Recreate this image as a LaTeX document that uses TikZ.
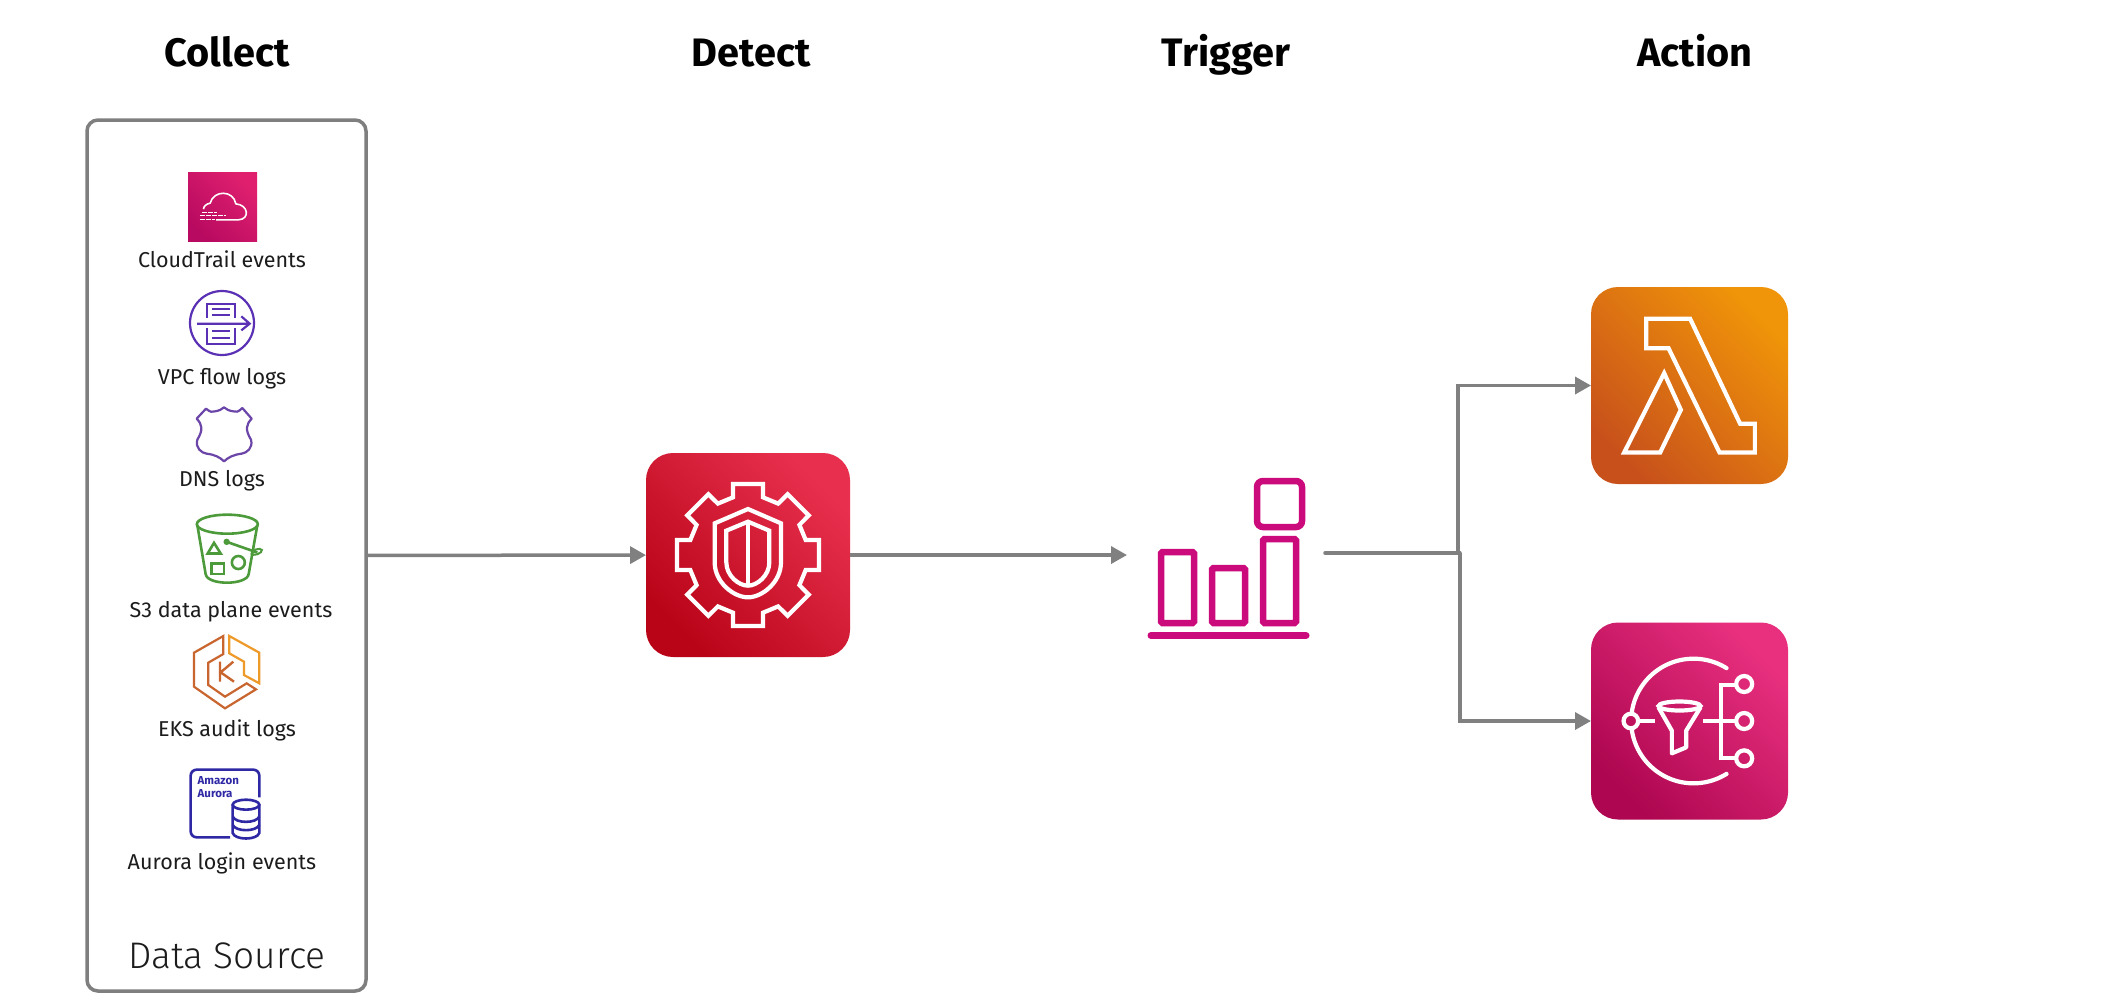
\documentclass[tikz,border=0pt]{standalone}
\usepackage{fontspec}
\setmainfont{Fira Sans}
\newfontfamily\dsfont[UprightFont={* Light}]{Fira Sans}
\usetikzlibrary{arrows.meta,calc}
\definecolor{flowgray}{HTML}{808080}
\definecolor{boxgray}{HTML}{7F7F7F}
\definecolor{trigpink}{HTML}{CB0A7C}
\definecolor{vpcpurple}{HTML}{5A30B5}
\definecolor{dnspurple}{HTML}{6B45A8}
\definecolor{s3green}{HTML}{4C9A3A}
\definecolor{aurorablue}{HTML}{2F28A5}
\definecolor{inktext}{HTML}{1C1C1C}
\definecolor{ekslow}{HTML}{C9652E}
\definecolor{ekshigh}{HTML}{EE9A2A}
\definecolor{guardA}{HTML}{B90418}
\definecolor{guardB}{HTML}{E8304E}
\definecolor{lamA}{HTML}{C8511B}
\definecolor{lamB}{HTML}{F09409}
\definecolor{snsA}{HTML}{AE0650}
\definecolor{snsB}{HTML}{E8307F}
\definecolor{ctA}{HTML}{B80A60}
\definecolor{ctB}{HTML}{E0206F}
\tikzset{
  every node/.style={inner sep=0pt,outer sep=0pt},
  title/.style={anchor=base,font=\fontsize{39.7}{44}\selectfont\bfseries,text=black},
  lab/.style={anchor=base,font=\fontsize{21.5}{25}\selectfont,text=inktext},
  tile/.style 2 args={minimum width=#1,minimum height=#1,rounded corners=#2},
  grad/.style 2 args={bottom color=#1,top color=#2,shading angle=-45},
  flow/.style={draw=flowgray,line width=3.5pt,-{Triangle[length=16pt,width=17pt]}},
  flowline/.style={draw=flowgray,line width=3.5pt},
  wline/.style={draw=white,line width=4.2pt,line join=miter},
  thinw/.style={draw=white,line width=1.6pt},
  trigbar/.style={draw=trigpink,line width=6.5pt,rounded corners=1.5pt},
  vpcline/.style={draw=vpcpurple,line width=2.2pt},
  s3line/.style={draw=s3green,line width=2.6pt},
  aurline/.style={draw=aurorablue,line width=2.6pt},
  iconin/.style n args={3}{shift={(#1)},x=.33333pt,y=-.33333pt,shift={(-#2,-#3)}},
}
\begin{document}
\begin{tikzpicture}[x=1pt,y=-1pt]
\useasboundingbox (0,0) rectangle (2116,997);
\fill[white] (0,0) rectangle (2116,997);

% titles
\node[title] (tCollect) at (227,66) {Collect};
\node[title] (tDetect) at (751,66) {Detect};
\node[title] (tTrigger) at (1226,66) {Trigger};
\node[title] (tAction) at (1695,66) {Action};

% data source frame
\node[draw=boxgray,line width=3.5pt,rounded corners=11pt,minimum width=279pt,minimum height=871pt] (ds) at (226.5,555.5) {};

% main tiles
\node[tile={204pt}{27pt},grad={guardA}{guardB}] (guard) at (748,555) {};
\node[tile={197pt}{27pt},grad={lamA}{lamB}] (lambda) at (1689.5,385.5) {};
\node[tile={197pt}{27pt},grad={snsA}{snsB}] (sns) at (1689.5,721) {};
\node[minimum width=198pt,minimum height=161pt] (trig) at (1226,555) {};
\node[minimum width=69pt,minimum height=69pt,grad={ctA}{ctB}] (ctrail) at (222.5,206.5) {};
\node[minimum width=64pt,minimum height=64pt,circle,draw=vpcpurple,line width=2.2pt] (vpc) at (222,323) {};
\node[minimum width=60pt,minimum height=56pt] (dns) at (224,434) {};
\node[minimum width=66pt,minimum height=69pt] (s3) at (229,548.5) {};
\node[minimum width=66pt,minimum height=74pt] (eks) at (226,672) {};
\node[minimum width=72pt,minimum height=70pt] (aurora) at (225,804) {};

% labels
\node[lab] (lCT) at (222,267) {CloudTrail events};
\node[lab] (lVPC) at (222,384) {VPC flow logs};
\node[lab] (lDNS) at (222,486) {DNS logs};
\node[lab] (lS3) at (231,617) {S3 data plane events};
\node[lab] (lEKS) at (227,736) {EKS audit logs};
\node[lab] (lAur) at (222,869) {Aurora login events};
\node[anchor=base,font=\dsfont\fontsize{37}{42}\selectfont,text=inktext] (lDS) at (227,968) {Data Source};

% guard icon
\begin{scope}[iconin={guard.center}{383}{378}]
\coordinate (gc) at (383,378);
\draw[wline] ($(gc)+(-14.6:178.8)$)
  \foreach \a in {0,45,...,315}{ -- ($(gc)+(\a-14.6:178.8)$) -- ($(gc)+(\a-11.9:217.7)$) -- ($(gc)+(\a+11.9:217.7)$) -- ($(gc)+(\a+14.6:178.8)$)} -- cycle;
\draw[wline] (383,240) -- (283,283) -- (283,400) .. controls (283,460) and (340,505) .. (383,505) .. controls (425,505) and (482,460) .. (482,400) -- (482,283) -- cycle;
\draw[wline] (383,278) -- (318,305) -- (318,400) .. controls (318,440) and (355,470) .. (383,470) .. controls (410,470) and (447,440) .. (447,400) -- (447,305) -- cycle;
\draw[wline] (383,285) -- (383,470);
\end{scope}

% lambda icon
\begin{scope}[iconin={lambda.center}{388}{347}]
\draw[wline] (258,147) -- (390,147) -- (540,462) -- (584,462) -- (584,548) -- (478,548) -- (325,235) -- (258,235) -- cycle;
\draw[wline] (312,310) -- (362,420) -- (300,548) -- (192,548) -- cycle;
\end{scope}

% sns icon
\begin{scope}[iconin={sns.center}{388}{333}]
\draw[wline,line cap=round] plot[domain=58:172,samples=50] ({400+187*cos(\x)},{333+187*sin(\x)});
\draw[wline,line cap=round] plot[domain=188:302,samples=50] ({400+187*cos(\x)},{333+187*sin(\x)});
\draw[wline] (212,333) circle[radius=7.3pt];
\draw[wline] (235,333) -- (285,333);
\draw[wline] (358,288) ellipse[x radius=21pt,y radius=4.5pt];
\draw[wline,line join=round] (295,292) -- (335,362) -- (335,430) -- (378,412) -- (378,362) -- (421,292);
\draw[wline] (428,333) -- (528,333);
\draw[wline] (530,225) -- (482,225) -- (482,445) -- (530,445);
\draw[wline] (552,222) circle[radius=8pt];
\draw[wline] (552,333) circle[radius=8pt];
\draw[wline] (552,445) circle[radius=8pt];
\end{scope}

% trigger icon
\draw[trigbar] (1161,552) rectangle (1194,623);
\draw[trigbar] (1212,568) rectangle (1245,623);
\draw[trigbar] (1263,539) rectangle (1296,623);
\draw[draw=trigpink,line width=6.5pt,rounded corners=6pt] (1257,481) rectangle (1302,527);
\draw[draw=trigpink,line width=7pt,line cap=round] (1151,635.5) -- (1306,635.5);

% cloudtrail icon
\begin{scope}[iconin={ctrail.center}{487}{320}]
\draw[thinw,line join=round] (468,360) -- (535,360) .. controls (570,358) and (565,315) .. (527,312) .. controls (520,270) and (460,270) .. (450,310) .. controls (438,312) and (430,320) .. (430,328);
\draw[draw=white,line width=1.1pt,dash pattern=on 5pt off 1pt] (425,338) -- (470,338);
\draw[draw=white,line width=1.1pt,dash pattern=on 5pt off 1pt] (420,348) -- (497,348);
\draw[draw=white,line width=1.1pt,dash pattern=on 5pt off 1pt] (418,358) -- (465,358);
\end{scope}

% vpc icon
\begin{scope}[iconin={vpc.center}{487}{670}]
\draw[vpcline] (443,655) -- (443,612) -- (527,612) -- (527,655);
\draw[vpcline] (443,685) -- (443,732) -- (527,732) -- (527,685);
\draw[vpcline] (458,628) -- (512,628) (458,645) -- (512,645) (458,695) -- (512,695) (458,715) -- (512,715);
\draw[vpcline] (412,672) -- (570,672) (545,650) -- (570,672) -- (545,692);
\end{scope}

% dns icon
\begin{scope}[iconin={dns.center}{162}{118}]
\draw[draw=dnspurple,line width=2.2pt,line join=round]
 (108,42) .. controls (120,52) and (128,54) .. (135,50) .. controls (148,48) and (155,44) .. (162,38)
 .. controls (169,44) and (176,48) .. (190,50) .. controls (197,54) and (205,52) .. (217,40)
 -- (245,72) .. controls (228,90) and (225,105) .. (243,135) .. controls (250,160) and (230,175) .. (215,177)
 .. controls (190,180) and (175,188) .. (162,200) .. controls (150,188) and (135,180) .. (110,177)
 .. controls (95,175) and (75,160) .. (82,135) .. controls (100,105) and (97,90) .. (80,72) -- cycle;
\end{scope}

% s3 icon
\begin{scope}[iconin={s3.center}{507}{145}]
\draw[s3line] (502,72) ellipse[x radius=30.5pt,y radius=9.5pt];
\draw[s3line,line join=round] (412,75) -- (437,222) .. controls (442,256) and (560,256) .. (566,222) -- (592,75);
\draw[s3line] (500,125) -- (592,157);
\fill[s3green] (500,125) circle[radius=3.2pt];
\draw[draw=s3green,line width=2pt,rotate around={20:(590,155)}] (590,155) ellipse[x radius=5.5pt,y radius=2.5pt];
\draw[s3line] (462,128) -- (443,160) -- (482,160) -- cycle;
\draw[s3line] (455,190) rectangle (492,222);
\draw[s3line] (535,187) circle[radius=6.5pt];
\end{scope}

% eks icon
\begin{scope}[iconin={eks.center}{138}{126}]
\draw[draw=ekslow,line width=2.2pt,line join=miter] (130,18) -- (42,68) -- (42,170) -- (135,235) -- (228,178) -- (200,160) -- (135,200) -- (85,165) -- (85,98) -- (130,72) -- cycle;
\draw[draw=ekshigh,line width=2.2pt,line join=miter] (148,18) -- (238,68) -- (238,160) -- (192,135) -- (192,95) -- (148,70) -- cycle;
\draw[draw=ekslow,line width=2.4pt] (120,95) -- (120,155) (160,95) -- (122,127) -- (162,155);
\end{scope}

% aurora icon
\begin{scope}[iconin={aurora.center}{495}{913}]
\draw[aurline,rounded corners=6pt] (510,1013) -- (392,1013) -- (392,810) -- (598,810) -- (598,893);
\node[anchor=base west,font=\fontsize{11.5}{13}\selectfont\bfseries,text=aurorablue] (amz) at (413,855) {Amazon};
\node[anchor=base west,font=\fontsize{11.5}{13}\selectfont\bfseries,text=aurorablue] (aur) at (413,893) {Aurora};
\draw[aurline] (558,915) ellipse[x radius=13.3pt,y radius=5pt];
\draw[aurline] (518,915) -- (518,1000) .. controls (525,1022) and (591,1022) .. (598,1000) -- (598,915);
\draw[aurline] (518,950) .. controls (525,972) and (591,972) .. (598,950);
\draw[aurline] (518,975) .. controls (525,997) and (591,997) .. (598,975);
\end{scope}

% connectors
\coordinate (tout) at (1325,553);
\coordinate (junA) at (1458,553);
\coordinate (junB) at (1460,553);
\draw[flow] (ds) -- (guard);
\draw[flow] (guard) -- (trig);
\draw[flowline,line cap=round] (tout) -- (junB);
\draw[flow] (junA) |- (lambda.west);
\draw[flow] (junB) |- (sns.west);
\end{tikzpicture}
\end{document}
